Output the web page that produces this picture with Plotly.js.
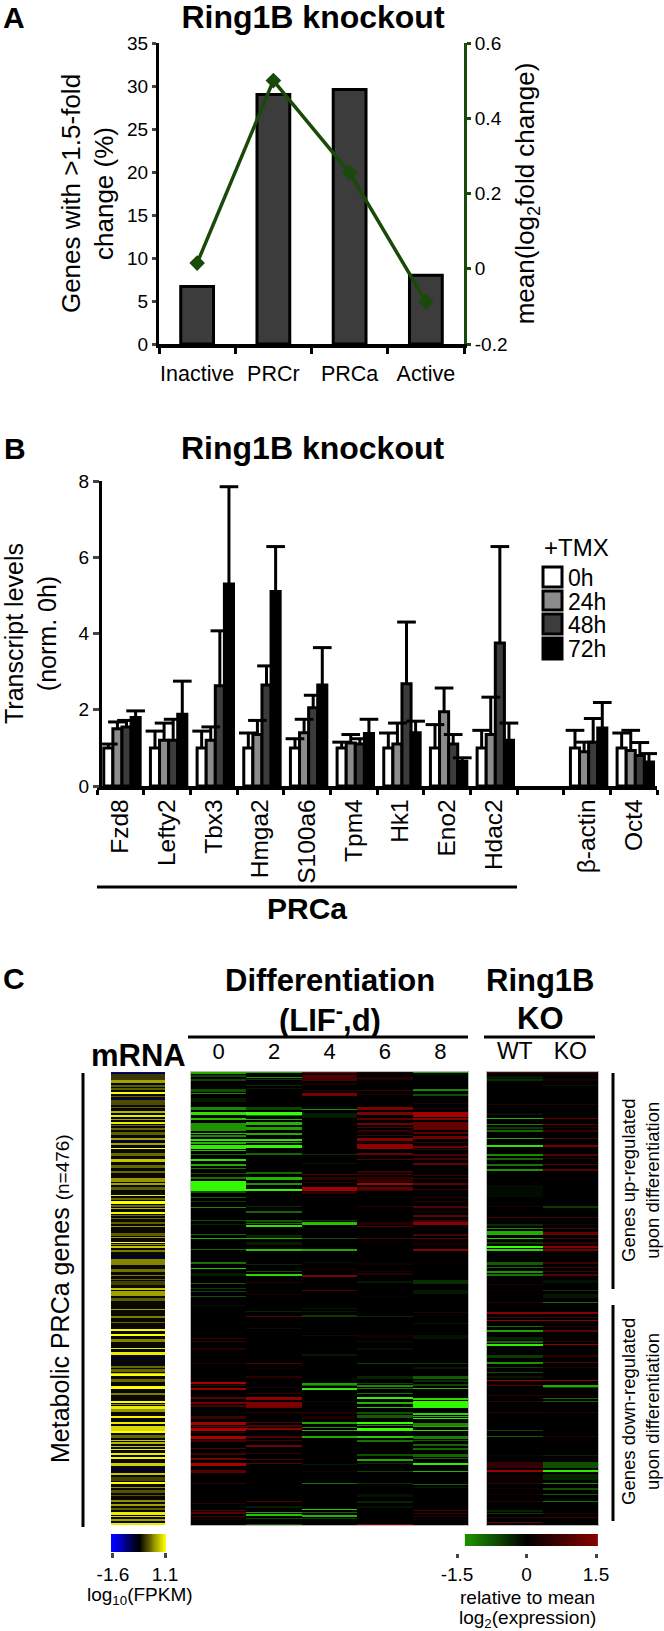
<!DOCTYPE html>
<html><head><meta charset="utf-8">
<script src="https://cdn.plot.ly/plotly-3.0.1.min.js"></script>
<style>html,body{margin:0;padding:0;background:#fff}</style></head>
<body><div id="chart" style="width:664px;height:1631px"></div>
<script>
// ---------- Panel A ----------
const classes = ['Inactive','PRCr','PRCa','Active'];
const pctChanged = [6.7,29,29.6,8];
const meanLog2 = [0.015,0.5,0.255,-0.087];
// ---------- Panel B ----------
const genes = ['Fzd8','Lefty2','Tbx3','Hmga2','S100a6','Tpm4','Hk1','Eno2','Hdac2',' ','β-actin','Oct4'];
const h0  = [1,1,1,1,1,1,1,1,1,null,1,1];
const h24 = [1.5,1.2,1.2,1.35,1.4,1.13,1.1,1.95,1.35,null,0.9,0.93];
const h48 = [1.55,1.2,2.63,2.65,2.05,1.1,2.68,1.1,3.75,null,1.15,0.8];
const h72 = [1.8,1.88,5.3,5.1,2.65,1.38,1.4,0.65,1.2,null,1.52,0.63];
const h0Top  = [1.1,1.44,1.44,1.39,1.24,1.15,1.39,1.61,1.46,null,1.46,1.39];
const h24Top = [1.68,1.65,1.55,1.72,1.75,1.35,1.65,2.57,2.33,null,1.15,1.46];
const h48Top = [1.72,1.75,4.07,3.15,2.38,1.24,4.3,1.35,6.28,null,1.77,1.14];
const h72Top = [1.97,2.75,7.85,6.28,3.63,1.75,1.7,0.74,1.65,null,2.19,0.85];
const timeLabels = ['0h','24h','48h','72h'];
const timeColors = ['#ffffff','#8c8c8c','#3c3c3c','#000000'];
// ---------- Panel C : [first row, number of rows, value], rows ----------
const mrnaBands = [[2,1,-1.2],[4,6,0.05],[10,3,0.6],[15,2,0.25],[18,2,0.25],[22,2,1.1],[26,1,0.25],[28,1,-0.9],[30,5,0.15],[37,1,0.25],[41,2,0.7],[45,2,1.0],[49,1,0.6],[52,2,1.0],[55,1,0.3],[58,2,0.3],[62,3,0.25],[68,2,0.6],[70,1,-1.0],[73,2,0.6],[78,1,1.1],[83,3,0.3],[89,3,0.8],[95,3,0.3],[101,2,0.3],[108,4,0.55],[113,2,0.6],[117,3,0.25],[125,1,1.0],[128,2,0.3],[131,3,1.1],[135,2,0.3],[138,1,0.7],[142,2,1.05],[145,1,0.3],[148,1,0.3],
[152,2,0.25],[156,1,0.55],[163,3,0.25],[167,1,0.6],[172,1,1.1],[174,1,0.5],[176,2,0.8],[180,2,0.4],[186,2,-0.55],[189,6,0.45],[199,3,0.35],[205,1,0.4],[209,1,0.25],[211,4,0.1],[218,2,0.8],[221,5,0.6],[228,3,0.25],[239,1,0.6],[246,2,0.4],[252,1,0.3],[259,2,1.05],[264,2,1.1],[269,3,0.45],[278,1,1.0],[282,3,1.0],[287,2,-0.55],[292,1,-0.4],[296,2,0.3],[299,3,0.3],[303,1,0.8],
[304,2,1.1],[309,3,0.3],[316,3,1.1],[323,2,0.4],[331,2,1.1],[334,1,0.5],[336,3,1.0],[339,3,0.55],[346,2,1.05],[352,2,1.0],[356,5,0.9],[361,2,1.1],[365,3,0.3],[370,1,0.8],[372,2,0.7],[376,1,0.8],[379,1,1.0],[383,2,1.0],[387,2,1.05],[393,3,0.85],[398,3,-0.5],[403,2,0.8],[407,4,0.1],[412,2,1.1],[417,1,0.5],[420,3,0.2],[425,1,0.2],[430,2,0.5],[434,2,0.6],[438,2,0.25],[442,3,1.0],[446,1,0.9],[449,2,0.6],[453,2,1.0]];
const day0Bands = [[2,2,-1.5],[5,2,-0.6],[9,2,-0.6],[19,3,-0.7],[23,1,-1.2],[28,4,-0.2],[37,3,-1.2],[42,3,-2.0],[48,2,-1.7],[53,8,-1.3],[63,1,-1.8],[65,2,-1.2],[69,2,-2.0],[72,2,-1.6],[75,4,-2.1],[80,1,-1.7],[84,1,-0.9],[89,2,-2.0],[94,2,-1.5],[98,1,-1.0],[103,1,-0.7],[107,2,-1.0],[111,10,-2.2],[121,2,-0.7],[127,1,-0.8],[131,1,-0.5],[137,1,-1.2],[150,1,-0.7],
[154,1,-0.3],[164,1,-0.9],[168,1,-1.5],[179,1,-0.9],[192,2,-1.0],[198,1,-1.7],[203,3,-0.25],[213,1,-0.8],[218,1,-0.5],[221,1,-0.6],[226,1,-0.7],[235,1,-0.15],[268,1,0.6],[271,1,0.7],[278,2,0.4],[284,1,0.2],[293,1,0.3],
[312,2,1.9],[315,1,0.7],[318,2,1.7],[327,2,1.0],[332,2,1.3],[335,2,0.8],[346,2,0.7],[348,1,0.6],[352,3,1.8],[356,1,1.2],[358,3,2.0],[362,1,0.5],[366,3,1.9],[370,2,0.8],[378,1,0.9],[383,2,0.7],[388,2,1.3],[393,3,1.9],[400,3,1.0],[413,1,0.6],[433,1,0.5],[440,1,1.0],[442,2,0.9],[446,1,0.8],[449,1,0.3]];
const day2Bands = [[2,1,-1.5],[7,1,-1.3],[9,1,-0.5],[15,1,-0.35],[18,1,-0.2],[37,3,-0.6],[42,3,-2.25],[45,1,-1.0],[49,1,-1.6],[52,3,-1.6],[57,3,-1.4],[63,2,-1.5],[69,2,-2.0],[72,1,-1.4],[75,3,-2.2],[83,2,-0.9],[102,2,-0.9],[107,3,-1.6],[113,2,-1.3],[119,2,-2.2],[136,1,-0.4],[141,2,-0.9],[150,2,-0.8],
[153,1,-1.0],[155,2,-2.0],[165,3,-0.3],[168,1,-1.6],[172,3,-0.25],[179,2,-1.7],[194,1,-0.3],[201,1,-0.7],[204,2,-1.9],[212,1,0.5],[224,1,0.25],[241,1,-0.3],[246,1,1.0],[258,1,-0.15],[293,1,0.9],[298,1,0.2],
[306,2,0.5],[317,1,0.3],[323,1,0.6],[327,3,1.6],[332,4,1.4],[336,2,1.3],[342,1,0.6],[352,1,0.9],[355,2,0.9],[358,2,1.5],[366,2,0.9],[370,1,0.7],[375,2,1.2],[383,1,0.6],[389,1,0.8],[393,1,0.9],[431,1,0.9],[436,2,-0.25],[442,1,-1.4],[444,2,-1.7],[448,1,-0.6],[454,1,-0.7]];
const day4Bands = [[2,1,1.5],[5,6,0.8],[13,2,0.3],[20,1,0.4],[23,3,1.3],[39,1,-1.3],[43,5,-0.25],[84,1,-0.4],[93,1,-0.2],[104,1,0.9],[107,3,0.5],[112,1,0.4],[117,4,1.8],[122,2,0.5],[127,1,0.2],[150,1,-0.5],
[152,3,-1.7],[168,1,-0.7],[179,2,-1.5],[192,1,-0.15],[198,2,0.2],[205,2,1.4],[220,1,0.9],[238,1,-0.2],[241,1,-0.2],[245,2,-0.5],[265,1,-0.15],[284,2,-0.2],
[313,2,-1.4],[315,1,-0.8],[318,2,-2.1],[331,1,-0.1],[342,2,0.4],[346,3,0.3],[352,2,-1.5],[357,1,-1.2],[360,1,-1.6],[366,2,-1.5],[394,1,-0.2],[401,1,0.2],[413,1,-1.0],[439,1,-1.8],[442,1,-0.8],[445,2,-1.6],[448,1,-0.5]];
const day6Bands = [[2,1,0.5],[7,3,0.4],[20,1,0.7],[24,1,0.3],[37,3,1.4],[42,3,1.4],[48,2,1.0],[53,2,1.3],[57,1,0.8],[60,2,0.6],[65,1,0.7],[68,3,1.5],[72,1,0.5],[74,5,1.6],[83,2,1.2],[89,1,0.9],[101,2,0.7],[104,1,0.8],[107,5,0.55],[113,2,1.9],[117,3,1.0],[120,1,0.7],[136,1,0.5],
[152,3,0.4],[156,1,0.9],[168,1,0.8],[193,2,0.2],[201,1,0.3],[203,2,0.4],[211,2,-0.2],[226,1,0.15],[246,1,-0.35],[265,3,0.2],[271,1,-0.15],[278,2,-0.15],[293,1,-0.6],
[306,3,-0.3],[313,1,-0.6],[315,2,-1.2],[318,1,-1.0],[323,1,-1.0],[327,2,-2.1],[332,2,-1.6],[337,1,-1.7],[342,2,-0.7],[345,3,-0.8],[352,2,-2.25],[355,1,-1.2],[358,3,-2.25],[366,2,-1.8],[370,2,-1.0],[384,2,-0.7],[389,2,-1.5],[393,1,-0.4],[401,1,-0.6],[413,1,-0.4],[424,3,-0.15],[431,2,-0.3],[436,2,-0.15],[454,1,1.5]];
const day8Bands = [[2,1,-1.4],[19,2,-1.2],[24,2,-0.7],[33,1,0.4],[38,1,0.5],[42,5,1.8],[48,2,1.5],[52,8,1.1],[62,2,1.0],[66,3,1.3],[72,1,0.6],[76,2,1.2],[79,1,0.7],[84,2,0.8],[88,2,0.8],[93,2,1.1],[105,1,0.7],[108,1,0.6],[113,2,1.0],[119,1,0.7],[127,1,0.5],[131,1,0.4],[136,2,0.9],[141,1,0.4],[145,2,1.1],[150,2,0.7],
[152,3,1.5],[164,2,0.8],[168,1,1.0],[172,4,0.2],[179,2,1.5],[192,1,0.2],[210,4,-0.4],[220,4,-0.2],[242,1,0.4],[253,1,-0.2],[265,4,-0.15],[293,1,-0.5],[297,2,-0.2],
[306,3,-0.8],[310,2,-0.4],[314,2,-0.6],[318,1,-1.6],[328,2,-1.9],[331,7,-2.2],[343,2,-1.9],[346,1,-1.6],[348,1,-2.1],[353,3,-1.2],[356,1,-1.5],[360,1,-2.0],[366,3,-1.1],[370,1,-0.8],[374,2,-0.9],[378,2,-0.9],[384,3,-0.9],[388,1,-0.8],[393,2,-2.1],[401,1,-1.6],[414,1,-0.8],[417,1,-0.2],[440,1,0.8],[443,1,0.6],[446,1,0.4],[449,1,0.2]];
const wtBands = [[2,1,0.8],[6,3,-0.2],[9,2,-0.4],[34,1,0.4],[43,2,-0.15],[48,1,-1.6],[54,1,-1.1],[57,2,-0.5],[60,2,-0.9],[68,1,-1.5],[75,2,-2.0],[84,2,-1.2],[88,2,-0.9],[94,2,-1.0],[99,2,-1.3],[115,12,-0.1],[136,1,0.3],[147,1,0.7],
[154,2,-0.4],[158,1,-1.2],[161,4,-1.5],[168,1,-1.8],[172,2,-0.5],[176,2,-2.25],[179,2,-1.9],[192,3,-0.8],[197,1,-1.0],[201,2,-1.3],[204,2,-1.0],[214,1,0.3],[220,1,0.2],[232,1,0.5],[242,2,1.5],[247,1,0.8],[250,1,1.6],[256,1,-1.0],[260,2,-1.4],[267,3,-0.3],[271,2,-0.9],[274,2,-2.1],[285,3,-0.5],[292,2,-1.3],[297,1,-0.5],[302,1,-0.7],
[306,2,-0.2],[310,1,1.9],[315,1,1.1],[325,1,0.5],[331,1,0.6],[342,1,0.5],[360,1,-0.6],[366,1,-0.8],[385,1,0.2],[392,6,0.55],[400,2,1.7],[404,8,0.12],[413,1,0.6],[418,1,0.3],[424,1,0.3],[431,1,0.5],[440,2,-0.3],[443,1,-0.5],[447,1,0.6],[452,1,1.1]];
const koBands = [[2,1,0.8],[9,2,0.3],[15,1,-0.15],[34,1,0.4],[48,1,1.1],[54,1,0.9],[57,1,0.4],[60,2,0.6],[68,1,0.9],[75,2,1.3],[84,2,0.9],[88,1,0.5],[94,1,0.9],[99,2,1.0],[136,2,-0.5],[147,1,0.7],
[154,1,0.3],[158,1,0.8],[162,3,1.1],[168,1,0.9],[172,2,0.5],[176,2,1.5],[179,2,1.3],[192,2,0.7],[197,1,0.7],[201,1,0.7],[204,2,0.9],[210,3,-0.15],[220,1,-0.5],[224,4,-0.2],[232,1,-1.0],[242,2,1.5],[247,1,0.7],[250,1,1.6],[256,1,0.5],[260,2,1.0],[271,1,0.6],[274,1,1.6],[285,2,0.5],[292,1,1.0],[297,1,0.3],
[310,1,1.7],[315,2,-1.5],[317,1,-0.6],[325,1,0.3],[328,1,-0.9],[331,1,-0.8],[342,1,0.4],[366,1,0.4],[385,1,-0.3],[392,6,-0.7],[400,2,-2.1],[404,6,-0.3],[413,1,-1.2],[418,2,-0.7],[424,1,-0.8],[431,1,-1.0],[443,1,0.3],[447,1,0.7]];
const dayLabels = ['0','2','4','6','8'];
const koLabels = ['WT','KO'];
const fpkmStops = [-1.7,-1.5,-1.3,-1.1,-0.9,-0.7,-0.5,-0.3,-0.1,0.1,0.3,0.5,0.7,0.9,1.15];
const exprStops = [-1.22,-1.0,-0.8,-0.6,-0.4,-0.2,0,0.2,0.4,0.6,0.8,1.0,1.2,1.4,1.6];

// ---------- helpers ----------
const W = 664, H = 1631, F = 'Liberation Sans, Arial, sans-serif';
const px = v => v / W, py = v => 1 - v / H;
const firstRow = 2, lastRow = 454;
const rows = []; for (let r = firstRow; r <= lastRow; r++) rows.push(r);
function expand(bands, base) {
  const c = rows.map(() => base);
  bands.forEach(([r, n, v]) => { for (let i = r; i < r + n && i <= lastRow; i++) c[i - firstRow] = v; });
  return c;
}
function toZ(cols) { return rows.map((_, i) => cols.map(c => c[i])); }
const greenRed = [[0,'#33ff00'],[0.5,'#000000'],[1,'#cc0000']];
const blueYellow = [[0,'#0000ff'],[0.5,'#000000'],[1,'#ffff00']];
const ink = '#000', green = '#1a4a0a';
const dark = '#3c3c3c';

// ---------- traces ----------
const traces = [];
traces.push({type:'bar',x:classes,y:pctChanged,xaxis:'x',yaxis:'y',width:0.43,
  marker:{color:dark,line:{color:ink,width:3}},hoverinfo:'x+y'});
traces.push({type:'scatter',mode:'lines+markers',x:classes,y:meanLog2,xaxis:'x',yaxis:'y2',
  line:{color:green,width:3.5},marker:{symbol:'diamond',size:12,color:green}});

const seriesB = [h0,h24,h48,h72], topsB = [h0Top,h24Top,h48Top,h72Top];
const barW = 0.195, barStart = -0.355, capHalf = 0.2;
seriesB.forEach((vals,s) => {
  traces.push({type:'bar',name:timeLabels[s],x:genes,y:vals,xaxis:'x2',yaxis:'y3',
    width:barW,offset:barStart+s*barW,
    marker:{color:timeColors[s],line:{color:ink,width:3}}});
});
seriesB.forEach((vals,s) => {
  const xs=[],ys=[];
  vals.forEach((v,i)=>{
    if(v===null) return;
    const cx=i+barStart+(s+0.5)*barW, t=topsB[s][i];
    xs.push(cx,cx,null,cx-capHalf,cx+capHalf,null);
    ys.push(v,t,null,t,t,null);
  });
  traces.push({type:'scatter',mode:'lines',name:timeLabels[s]+' error',x:xs,y:ys,xaxis:'x3',yaxis:'y3',
    line:{color:ink,width:3},connectgaps:false});
});

traces.push({type:'heatmap',x:['FPKM'],y:rows,z:toZ([expand(mrnaBands,-0.2)]),xaxis:'x4',yaxis:'y4',
  zmin:-1.6,zmax:1.1,colorscale:blueYellow,showscale:false});
traces.push({type:'heatmap',x:dayLabels,y:rows,
  z:toZ([day0Bands,day2Bands,day4Bands,day6Bands,day8Bands].map(b=>expand(b,0))),xaxis:'x5',yaxis:'y5',
  zmin:-2.25,zmax:2.25,colorscale:greenRed,showscale:false});
traces.push({type:'heatmap',x:koLabels,y:rows,z:toZ([wtBands,koBands].map(b=>expand(b,0))),xaxis:'x6',yaxis:'y6',
  zmin:-2.25,zmax:2.25,colorscale:greenRed,showscale:false});
traces.push({type:'heatmap',x:fpkmStops,y:[0],z:[fpkmStops],xaxis:'x7',yaxis:'y7',zsmooth:'best',
  zmin:-1.6,zmax:1.1,colorscale:blueYellow,showscale:false});
traces.push({type:'heatmap',x:exprStops,y:[0],z:[exprStops],xaxis:'x8',yaxis:'y8',zsmooth:'best',
  zmin:-2.25,zmax:2.25,colorscale:greenRed,showscale:false});

// ---------- text ----------
const txt = (text,x,y,size,extra={}) => Object.assign({xref:'paper',yref:'paper',x:px(x),y:py(y),text,showarrow:false,
  xanchor:'center',yanchor:'middle',font:{family:F,size,color:'#000'}},extra);
const bold = s => '<b>'+s+'</b>';
const annotations = [
  txt(bold('A'),14,18,30), txt(bold('B'),15,448,30), txt(bold('C'),14,978,30),
  txt(bold('Ring1B knockout'),312,448,32),
  txt(bold('PRCa'),307,908,30),
  txt('+TMX',576,547,24),
  txt(bold('Differentiation'),330,980,31), txt(bold('(LIF<sup>-</sup>,d)'),330,1018,31),
  txt(bold('Ring1B'),540,980,31), txt(bold('KO'),540,1018,31),
  txt(bold('mRNA'),138,1055,31),
  txt('Metabolic PRCa genes <span style="font-size:19px">(n=476)</span>',60,1299,25,{textangle:-90}),
  txt('Genes up-regulated<br>upon differentiation',640,1180,18.5,{textangle:-90}),
  txt('Genes down-regulated<br>upon differentiation',640,1412,18.5,{textangle:-90}),
  txt('log<sub>10</sub>(FPKM)',140,1596,19),
  txt('relative to mean',527,1597,19),
  txt('log<sub>2</sub>(expression)',527,1619,19)
];
// legend of panel B
const swatchTop = [567,591,614,638], swatchBottom = [587,610,634,659], labelY = [578,602,625,649];
const shapes = [];
const rule = (x0,y0,x1,y1,w) => shapes.push({type:'line',xref:'paper',yref:'paper',x0:px(x0),y0:py(y0),x1:px(x1),y1:py(y1),line:{color:'#000',width:w}});
timeLabels.forEach((t,i)=>{
  shapes.push({type:'rect',xref:'paper',yref:'paper',x0:px(543),x1:px(562),y0:py(swatchBottom[i]),y1:py(swatchTop[i]),
    fillcolor:timeColors[i],line:{color:'#000',width:3}});
  annotations.push(txt(t,566,labelY[i],23,{xanchor:'left'}));
});
rule(97,887,517,887,3);
rule(188,1037,468,1037,3);
rule(484,1037,595,1037,3);
rule(83,1073,83,1527,3);
rule(613,1073,613,1289,3);
rule(613,1305,613,1521,3);

// ---------- axes ----------
const tf = s => ({family:F,size:s,color:'#000'});
const layout = {
  width:W,height:H,margin:{l:0,r:0,t:0,b:0,pad:0},paper_bgcolor:'#fff',plot_bgcolor:'rgba(0,0,0,0)',
  showlegend:false,barmode:'overlay',font:{family:F,color:'#000'},
  title:{text:bold('Ring1B knockout'),font:tf(32),x:px(313),xanchor:'center',y:py(17),yanchor:'middle',yref:'container'},
  annotations,shapes,
  xaxis:{domain:[px(159),px(464)],type:'category',categoryorder:'array',categoryarray:classes,range:[-0.5,3.5],
    tickson:'boundaries',ticks:'outside',ticklen:6,tickwidth:3,tickcolor:'#000',showline:true,linecolor:'#000',linewidth:3.5,
    tickangle:0,tickfont:tf(21.5),ticklabelstandoff:8,showgrid:false,zeroline:false,anchor:'y'},
  yaxis:{domain:[py(344),py(43)],range:[0,35],tickvals:[0,5,10,15,20,25,30,35],ticks:'outside',ticklen:4,tickwidth:3,
    showline:true,linecolor:'#000',linewidth:3,tickfont:tf(19),showgrid:false,zeroline:false,anchor:'x',
    title:{text:'Genes with &gt;1.5-fold<br>change (%)',font:tf(26),standoff:6}},
  yaxis2:{domain:[py(344),py(43)],range:[-0.2,0.6],tickvals:[-0.2,0,0.2,0.4,0.6],ticktext:['-0.2','0','0.2','0.4','0.6'],
    overlaying:'y',side:'right',anchor:'x',ticks:'outside',ticklen:4,tickwidth:3,tickcolor:green,
    showline:true,linecolor:green,linewidth:3,tickfont:tf(19),showgrid:false,zeroline:false,
    title:{text:'mean(log<sub>2</sub>fold change)',font:tf(26),standoff:10}},
  xaxis2:{domain:[px(97),px(657)],type:'category',categoryorder:'array',categoryarray:genes,range:[-0.5,11.5],
    tickson:'boundaries',ticks:'outside',ticklen:5,tickwidth:3,tickcolor:'#000',showline:true,linecolor:'#000',linewidth:3.5,
    tickangle:-90,tickfont:tf(24.5),showgrid:false,zeroline:false,anchor:'y3'},
  xaxis3:{domain:[px(97),px(657)],overlaying:'x2',range:[-0.5,11.5],visible:false,anchor:'y3'},
  yaxis3:{domain:[py(786),py(481)],range:[0,8],tickvals:[0,2,4,6,8],ticks:'outside',ticklen:6,tickwidth:3,
    showline:true,linecolor:'#000',linewidth:3,tickfont:tf(19),showgrid:false,zeroline:false,anchor:'free',position:px(100),
    title:{text:'Transcript levels<br>(norm. 0h)',font:tf(25),standoff:15}},
  xaxis4:{domain:[px(111),px(165)],visible:false,anchor:'y4'},
  yaxis4:{domain:[py(1525),py(1072)],range:[lastRow+0.5,firstRow-0.5],visible:false,anchor:'x4'},
  xaxis5:{domain:[px(191),px(468)],side:'top',type:'category',categoryorder:'array',categoryarray:dayLabels,
    tickfont:tf(22),ticks:'',ticklabelstandoff:3,showgrid:false,zeroline:false,anchor:'y5',showline:true,mirror:true,linecolor:'#bbb',linewidth:1},
  yaxis5:{domain:[py(1525),py(1072)],range:[lastRow+0.5,firstRow-0.5],showticklabels:false,ticks:'',showgrid:false,zeroline:false,anchor:'x5',showline:true,mirror:true,linecolor:'#bbb',linewidth:1},
  xaxis6:{domain:[px(487),px(598)],side:'top',type:'category',categoryorder:'array',categoryarray:koLabels,
    tickfont:tf(23),ticks:'',ticklabelstandoff:3,showgrid:false,zeroline:false,anchor:'y6',showline:true,mirror:true,linecolor:'#bbb',linewidth:1},
  yaxis6:{domain:[py(1525),py(1072)],range:[lastRow+0.5,firstRow-0.5],showticklabels:false,ticks:'',showgrid:false,zeroline:false,anchor:'x6',showline:true,mirror:true,linecolor:'#bbb',linewidth:1},
  xaxis7:{domain:[px(111),px(166)],range:[-1.7,1.15],tickvals:[-1.6,1.1],ticktext:['-1.6','1.1'],ticks:'outside',ticklen:5,tickwidth:3,
    tickfont:tf(19),showgrid:false,zeroline:false,anchor:'y7'},
  yaxis7:{domain:[py(1552),py(1534)],range:[-0.5,0.5],visible:false,anchor:'x7'},
  xaxis8:{domain:[px(457),px(598)],range:[-1.5,1.543],tickvals:[-1.5,0,1.5],ticktext:['-1.5','0','1.5'],ticks:'outside',ticklen:4,tickwidth:3,
    tickfont:tf(19),showgrid:false,zeroline:false,anchor:'free',position:py(1553)},
  yaxis8:{domain:[py(1546),py(1534)],range:[-0.5,0.5],visible:false,anchor:'x8'}
};
Plotly.newPlot('chart',traces,layout,{staticPlot:true,displayModeBar:false});
</script></body></html>
